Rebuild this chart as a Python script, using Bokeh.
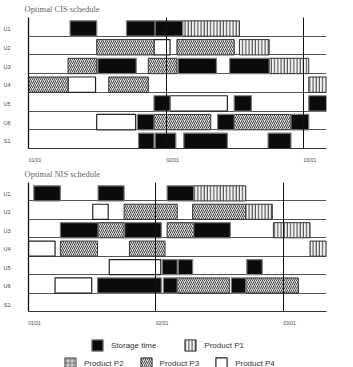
from bokeh.plotting import figure
from bokeh.models import Range1d, FixedTicker, ColumnDataSource, Legend, LegendItem
from bokeh.layouts import column
from bokeh.embed import file_html
from bokeh.resources import INLINE

units = ["U1", "U2", "U3", "U4", "U5", "U6", "S1"]
date_labels = ["01/01", "02/01", "03/01"]
date_hours = [0, 24, 48]

# Optimal CIS schedule (hours from 01/01 00:00)
cis_unit = ["U1", "U1", "U1", "U1",
            "U2", "U2", "U2", "U2",
            "U3", "U3", "U3", "U3", "U3", "U3",
            "U4", "U4", "U4", "U4",
            "U5", "U5", "U5", "U5",
            "U6", "U6", "U6", "U6", "U6", "U6",
            "S1", "S1", "S1", "S1"]
cis_start = [7.25, 17.1, 22.1, 26.9,
             11.9, 21.9, 25.9, 36.8,
             6.9, 12.1, 20.9, 26.1, 35.1, 42.0,
             0.0, 6.9, 14.0, 48.9,
             21.9, 24.7, 35.9, 48.9,
             11.9, 19.0, 21.9, 33.0, 35.9, 45.8,
             19.2, 22.1, 27.1, 41.8]
cis_end = [11.9, 22.1, 26.9, 36.8,
           21.9, 24.7, 35.9, 42.0,
           11.9, 18.8, 25.9, 32.8, 42.0, 48.9,
           6.9, 11.7, 20.9, 52.0,
           24.7, 34.7, 38.9, 52.0,
           18.7, 21.9, 31.8, 35.9, 45.8, 48.9,
           21.9, 25.7, 34.7, 45.8]
cis_kind = ["S", "S", "S", "P1",
            "P3", "P4", "P3", "P1",
            "P3", "S", "P3", "S", "S", "P1",
            "P3", "P4", "P3", "P1",
            "S", "P4", "S", "S",
            "P4", "S", "P3", "S", "P3", "S",
            "S", "S", "S", "S"]

# Optimal NIS schedule
nis_unit = ["U1", "U1", "U1", "U1",
            "U2", "U2", "U2", "U2",
            "U3", "U3", "U3", "U3", "U3", "U3",
            "U4", "U4", "U4", "U4",
            "U5", "U5", "U5", "U5",
            "U6", "U6", "U6", "U6", "U6", "U6"]
nis_start = [1.0, 13.1, 26.1, 31.1,
             12.1, 18.0, 30.9, 40.9,
             6.0, 13.1, 18.1, 26.1, 31.1, 46.1,
             0.0, 6.0, 19.0, 53.0,
             15.2, 25.2, 28.2, 41.1,
             5.0, 13.0, 25.4, 28.0, 38.2, 40.9]
nis_end = [6.0, 18.0, 31.1, 40.9,
           15.0, 28.0, 40.9, 45.9,
           13.1, 18.0, 25.0, 31.1, 38.0, 53.0,
           5.0, 13.0, 25.7, 56.1,
           24.9, 28.0, 30.9, 44.0,
           11.9, 25.0, 28.0, 37.8, 40.9, 50.8]
nis_kind = ["S", "S", "S", "P1",
            "P4", "P3", "P3", "P1",
            "S", "P3", "S", "P3", "S", "P1",
            "P4", "P3", "P3", "P1",
            "P4", "S", "S", "S",
            "P4", "S", "S", "P3", "S", "P3"]

legend_kinds = ["S", "P1", "P2", "P3", "P4"]
legend_labels = ["Storage time", "Product P1", "Product P2", "Product P3", "Product P4"]

STYLES = {
    "S": dict(fill_color="#0b0b0b", line_color="#7a7a7a", line_width=1.2),
    "P1": dict(fill_color="#f4f4f4", hatch_pattern="vertical_line", hatch_color="#2a2a2a",
               hatch_scale=3.2, hatch_weight=0.9, line_color="#333333", line_width=1),
    "P2": dict(fill_color="#d0d0d0", hatch_pattern="cross", hatch_color="#6a6a6a",
               hatch_scale=4.0, hatch_weight=0.8, line_color="#555555", line_width=1),
    "P3": dict(fill_color="#dcdcdc", hatch_pattern="right_diagonal_line", hatch_color="#4a4a4a",
               hatch_scale=4.0, hatch_weight=1.0, line_color="#333333", line_width=1),
    "P4": dict(fill_color="#ffffff", line_color="#222222", line_width=1.2),
}

BAR_H = 0.82
LABEL_FONT = "Liberation Sans"


def make_chart(title, unit, start, end, kind, xmax, height, b_top, b_bottom, b_right):
    p = figure(width=353, height=height, x_range=Range1d(0, xmax), y_range=Range1d(7, 0),
               toolbar_location=None, output_backend="svg", title=title,
               min_border_left=25, min_border_right=b_right,
               min_border_top=b_top, min_border_bottom=b_bottom)
    p.title.align = "left"
    p.title.offset = -4
    p.title.standoff = 5
    p.title.vertical_align = "middle"
    p.title.text_font = "Liberation Serif"
    p.title.text_font_size = "8.5px"
    p.title.text_font_style = "normal"
    p.title.text_color = "#666666"
    p.outline_line_color = None
    p.background_fill_color = "white"

    for k in ["P4", "P3", "P2", "P1", "S"]:
        idx = [i for i, kk in enumerate(kind) if kk == k]
        if not idx:
            continue
        rows = [units.index(unit[i]) for i in idx]
        src = ColumnDataSource(dict(
            left=[start[i] for i in idx],
            right=[end[i] for i in idx],
            top=[r + 1 - BAR_H for r in rows],
            bottom=[r + 1 for r in rows],
        ))
        p.quad(left="left", right="right", top="top", bottom="bottom", source=src, **STYLES[k])

    # row baselines
    p.ygrid.ticker = FixedTicker(ticks=[i + 1 for i in range(len(units))])
    p.ygrid.grid_line_color = "#555555"
    p.ygrid.grid_line_width = 1
    # day separators
    p.xgrid.ticker = FixedTicker(ticks=[h for h in date_hours if 0 < h < xmax])
    p.xgrid.grid_line_color = "#111111"
    p.xgrid.grid_line_width = 1
    p.xgrid.level = "overlay"

    ytick = [i + 0.625 for i in range(len(units))]
    p.yaxis.ticker = FixedTicker(ticks=ytick)
    p.yaxis.major_label_overrides = {t: u for t, u in zip(ytick, units)}
    p.yaxis.major_tick_line_color = None
    p.yaxis.minor_tick_line_color = None
    p.yaxis.axis_line_color = "#111111"
    p.yaxis.axis_line_width = 1.3
    p.yaxis.major_label_standoff = 12
    p.yaxis.major_label_text_font = LABEL_FONT
    p.yaxis.major_label_text_font_size = "5.5px"
    p.yaxis.major_label_text_color = "#444444"

    xtick = [h + 1.125 for h in date_hours]
    p.xaxis.ticker = FixedTicker(ticks=xtick)
    p.xaxis.major_label_overrides = {t: d for t, d in zip(xtick, date_labels)}
    p.xaxis.major_tick_line_color = None
    p.xaxis.minor_tick_line_color = None
    p.xaxis.axis_line_color = "#333333"
    p.xaxis.major_label_standoff = 2
    p.xaxis.major_label_text_font = LABEL_FONT
    p.xaxis.major_label_text_font_size = "5px"
    p.xaxis.major_label_text_color = "#444444"
    return p


p1 = make_chart("Optimal CIS schedule", cis_unit, cis_start, cis_end, cis_kind,
                52.0, 165, 16, 13, 27)
p2 = make_chart("Optimal NIS schedule", nis_unit, nis_start, nis_end, nis_kind,
                56.1, 163, 17, 12, 3)

# legend panel (proxy renderers kept outside the visible range)
pl = figure(width=353, height=39, x_range=Range1d(0, 1), y_range=Range1d(0, 1),
            toolbar_location=None, output_backend="svg", min_border=0,
            x_axis_location=None, y_axis_location=None)
pl.grid.visible = False
pl.outline_line_color = None
rend = {}
for k in legend_kinds:
    rend[k] = pl.quad(left=[5], right=[6], top=[6], bottom=[5], **STYLES[k])
items = [LegendItem(label=lab, renderers=[rend[k]]) for k, lab in zip(legend_kinds, legend_labels)]


def make_legend(its, loc, spacing):
    return Legend(items=its, location=loc, orientation="horizontal", spacing=spacing,
                  glyph_width=14, glyph_height=14, label_height=14, label_standoff=7,
                  padding=0, margin=0, border_line_color=None, background_fill_alpha=0,
                  label_text_font=LABEL_FONT, label_text_font_size="8px",
                  label_text_color="#333333")


pl.add_layout(make_legend(items[:2], (62, 15), 27))
pl.add_layout(make_legend(items[2:], (35, -3), 15))

layout = column(p1, p2, pl, spacing=0)
open("out.html", "w").write(file_html(layout, INLINE))
